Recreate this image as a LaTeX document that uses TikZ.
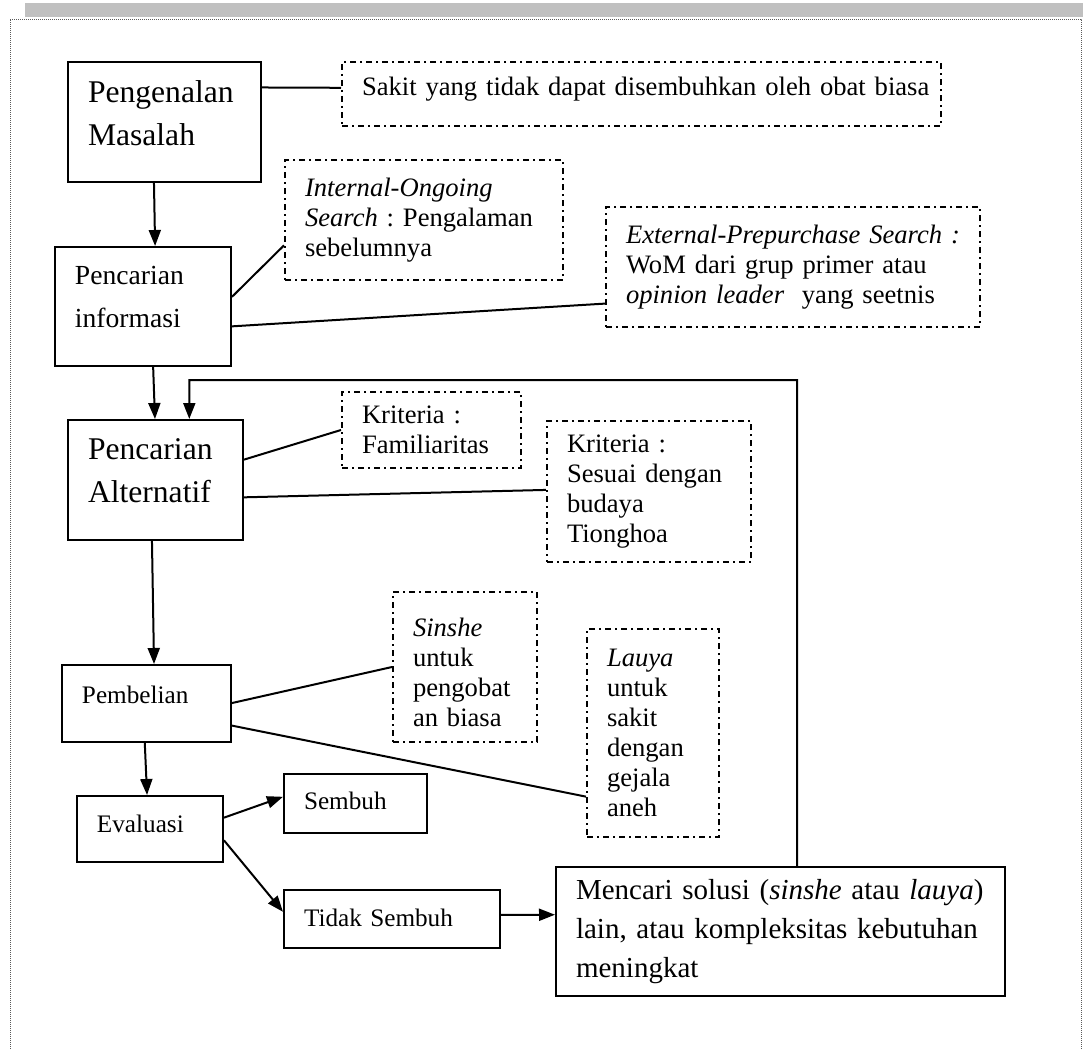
\documentclass[tikz,border=0pt]{standalone}
\usepackage{fontspec}
\setmainfont{Liberation Serif}
\usetikzlibrary{calc,arrows.meta}

% type sizes used in the chart
\newcommand\fsHuge{\fontsize{15.8}{21.5}\selectfont\frenchspacing}
\newcommand\fsInfo{\fontsize{13.8}{21.5}\selectfont\frenchspacing}
\newcommand\fsStep{\fontsize{12.6}{15}\selectfont\frenchspacing}
\newcommand\fsNote{\fontsize{13.3}{15}\selectfont\frenchspacing}
\newcommand\fsEnd{\fontsize{14.5}{19.3}\selectfont\frenchspacing}
% extra depth under the last line / extra height over the first line of a box text
\newcommand\lowpad[1]{\rule[-#1]{0pt}{#1}}
\newcommand\toppad[1]{\rule{0pt}{#1}}

\definecolor{barGray}{RGB}{192,192,192}
\definecolor{frameGray}{RGB}{90,90,90}

\tikzset{
  solidbox/.style={draw, line width=1pt, inner xsep=10pt, inner ysep=0pt, align=left},
  notebox/.style={draw, line width=1pt, dash pattern=on 3pt off 2pt on 1pt off 2pt,
                  inner xsep=10pt, inner ysep=0pt, align=left, font=\fsNote},
  link/.style={line width=1pt},
  arr/.style={line width=1pt, -{Triangle[length=8pt,width=6pt]}}
}

\begin{document}
\begin{tikzpicture}[x=0.5pt, y=-0.5pt]
\useasboundingbox (0,0) rectangle (1083,1049);

% page header band and dotted frame
\fill[barGray] (25,3) rectangle (1083,17);
\draw[frameGray, line width=0.5pt, dash pattern=on 0.5pt off 0.5pt]
  (10,1049) -- (10,19) -- (1081,19) -- (1081,1049);

% main stages
\node[solidbox, font=\fsHuge, minimum width=96.5pt, minimum height=60pt, text width=76.5pt]
  (pm) at (164.5,122) {Pengenalan\\Masalah\lowpad{9.3pt}};
\node[solidbox, font=\fsInfo, minimum width=88pt, minimum height=59.5pt, text width=68pt]
  (info) at (143,306.5) {Pencarian\\informasi\lowpad{9.5pt}};
\node[solidbox, font=\fsHuge, minimum width=87.5pt, minimum height=60pt, text width=67.5pt]
  (alt) at (155.5,480) {Pencarian\\Alternatif\lowpad{9.3pt}};
\node[solidbox, font=\fsStep, minimum width=84.5pt, minimum height=38.5pt, text width=64.5pt,
  text height=9pt, text depth=9pt]
  (beli) at (146.5,703.5) {Pembelian};
\node[solidbox, font=\fsStep, minimum width=73pt, minimum height=33pt, text width=53pt,
  text height=9pt, text depth=6pt]
  (eval) at (150,829) {Evaluasi};
\node[solidbox, font=\fsStep, minimum width=71.5pt, minimum height=29.5pt, text width=51.5pt,
  text height=9pt, text depth=3.5pt]
  (sembuh) at (355.5,803.5) {Sembuh};
\node[solidbox, font=\fsStep, minimum width=108pt, minimum height=29pt, text width=88pt,
  text height=9pt, text depth=2pt]
  (tidak) at (392,919) {Tidak Sembuh};
\node[solidbox, font=\fsEnd, minimum width=224.5pt, minimum height=64.5pt, text width=204.5pt]
  (mencari) at (780.5,931.5)
  {Mencari solusi (\textit{sinshe} atau \textit{lauya})\\lain, atau kompleksitas kebutuhan\\meningkat};

% notes in dash-dotted boxes
\node[notebox, minimum width=299.5pt, minimum height=32pt, text width=279.5pt,
  text height=9pt, text depth=8pt]
  (sakit) at (641.5,94) {\mbox{Sakit yang tidak dapat disembuhkan oleh obat biasa}};
\node[notebox, minimum width=139pt, minimum height=60pt, text width=119pt]
  (internal) at (424,220) {\textit{Internal-Ongoing}\\\textit{Search} : Pengalaman\\sebelumnya};
\node[notebox, minimum width=187pt, minimum height=60pt, text width=167pt]
  (external) at (793,267)
  {\mbox{\textit{External-Prepurchase Search :}}\\WoM dari grup primer atau\\\textit{opinion leader}\ \ yang seetnis};
\node[notebox, minimum width=89.5pt, minimum height=38pt, text width=69.5pt]
  (fam) at (431.5,430) {Kriteria :\\Familiaritas};
\node[notebox, minimum width=102pt, minimum height=70.5pt, text width=82pt]
  (sesuai) at (649,491.5) {Kriteria :\\Sesuai dengan\\budaya\\Tionghoa};
\node[notebox, minimum width=72pt, minimum height=75pt, text width=52pt]
  (sinshe) at (465,667) {\toppad{15pt}\textit{Sinshe}\\untuk\\pengobat\\an biasa};
\node[notebox, minimum width=66pt, minimum height=104pt, text width=46pt]
  (lauya) at (653,733) {\textit{Lauya}\\untuk\\sakit\\dengan\\gejala\\aneh};

% flow arrows
\draw[arr] ($(pm.south west)!0.446!(pm.south east)$) -- ($(info.north west)!0.568!(info.north east)$);
\draw[arr] ($(info.south west)!0.557!(info.south east)$) -- ($(alt.north west)!0.497!(alt.north east)$);
\draw[arr] ($(alt.south west)!0.48!(alt.south east)$) -- ($(beli.north west)!0.544!(beli.north east)$);
\draw[arr] ($(beli.south west)!0.49!(beli.south east)$) -- ($(eval.north west)!0.48!(eval.north east)$);
\draw[arr] ($(eval.north east)!0.333!(eval.south east)$) -- ($(sembuh.north west)!0.39!(sembuh.south west)$);
\draw[arr] ($(eval.north east)!0.667!(eval.south east)$) -- ($(tidak.north west)!0.38!(tidak.south west)$);
\draw[arr] ($(tidak.north east)!0.43!(tidak.south east)$) -- ($(mencari.north west)!0.372!(mencari.south west)$);

% feedback loop back to the search for alternatives
\coordinate (loopturn) at (797,380);
\draw[arr] ($(mencari.north west)!0.537!(mencari.north east)$) -- (loopturn)
  -| ($(alt.north west)!0.691!(alt.north east)$);

% links from stages to their notes
\draw[link] ($(pm.north east)!0.217!(pm.south east)$) -- ($(sakit.north west)!0.406!(sakit.south west)$);
\draw[link] ($(info.north east)!0.42!(info.south east)$) -- ($(internal.north west)!0.708!(internal.south west)$);
\draw[link] ($(info.north east)!0.664!(info.south east)$) -- ($(external.north west)!0.8!(external.south west)$);
\draw[link] ($(alt.north east)!0.333!(alt.south east)$) -- (fam.west);
\draw[link] ($(alt.north east)!0.642!(alt.south east)$) -- ($(sesuai.north west)!0.489!(sesuai.south west)$);
\draw[link] ($(beli.north east)!0.494!(beli.south east)$) -- (sinshe.west);
\draw[link] ($(beli.north east)!0.78!(beli.south east)$) -- ($(lauya.north west)!0.803!(lauya.south west)$);
\end{tikzpicture}
\end{document}
